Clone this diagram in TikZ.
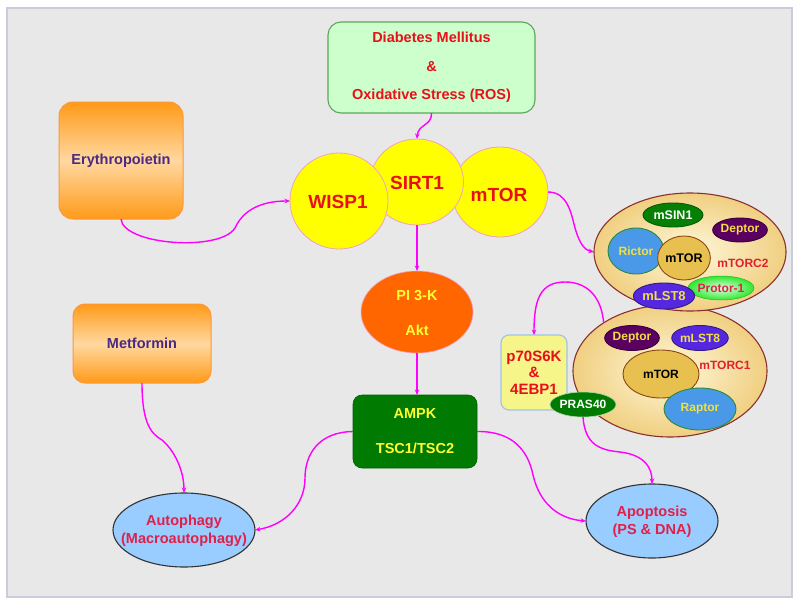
\documentclass[tikz,border=0pt]{standalone}
\usepackage{fontspec}
\setmainfont{Liberation Sans}
\usetikzlibrary{shapes.geometric,arrows.meta}
\definecolor{bg}{HTML}{E8E8E8}
\definecolor{frame}{HTML}{C8CCDC}
\definecolor{mag}{HTML}{FF00FF}
\definecolor{yel}{HTML}{FFFF00}
\definecolor{pinkb}{HTML}{F0A0C8}
\definecolor{redt}{HTML}{E8101A}
\definecolor{redd}{HTML}{E0202E}
\definecolor{crim}{HTML}{E0204A}
\definecolor{purt}{HTML}{4A2A80}
\definecolor{yelt}{HTML}{FFFF33}
\definecolor{lgreen}{HTML}{CCFFCC}
\definecolor{gborder}{HTML}{5BA85B}
\definecolor{orangeA}{HTML}{FF9A18}
\definecolor{orangeB}{HTML}{FFD8A0}
\definecolor{orangeE}{HTML}{FF9838}
\definecolor{pik}{HTML}{FF6600}
\definecolor{dgreen}{HTML}{007A00}
\definecolor{lblue}{HTML}{99CCFF}
\definecolor{dgray}{HTML}{333333}
\definecolor{p70fill}{HTML}{F5F58A}
\definecolor{p70bord}{HTML}{A0C4E8}
\definecolor{beigeA}{HTML}{FFF8DC}
\definecolor{beigeB}{HTML}{F0CF80}
\definecolor{brown}{HTML}{8B3030}
\definecolor{deptor}{HTML}{5A0060}
\definecolor{mlst}{HTML}{5528E0}
\definecolor{msin}{HTML}{058005}
\definecolor{rblue}{HTML}{4A98E8}
\definecolor{rbord}{HTML}{2A8A3A}
\definecolor{gold}{HTML}{E8C050}
\definecolor{brownb}{HTML}{8B4513}
\definecolor{protA}{HTML}{E0FFE0}
\definecolor{protB}{HTML}{30E830}
\definecolor{smallyel}{HTML}{F0E040}
\newcommand\fsz[2]{\fontsize{#1}{#2}\selectfont\bfseries}
\begin{document}
\begin{tikzpicture}[x=1pt,y=-1pt,
  every node/.style={inner sep=0pt, outer sep=0pt},
  conn/.style={draw=mag, line width=1.4pt, -{Stealth[length=5.5pt,width=4.5pt]}},
  yc/.style={ellipse, fill=yel, draw=pinkb, line width=0.8pt},
  obox/.style={rectangle, rounded corners=14pt, draw=orangeE, line width=1pt,
     top color=orangeA, bottom color=orangeA, middle color=orangeB},
  bell/.style={ellipse, fill=lblue, draw=dgray, line width=1.1pt},
  cplx/.style={ellipse, shading=radial, inner color=beigeA, outer color=beigeB, draw=brown, line width=1.1pt},
  sm/.style={ellipse, line width=0.9pt},
]
\useasboundingbox (0,0) rectangle (800,605);
\fill[white] (0,0) rectangle (800,605);
\draw[fill=bg, draw=frame, line width=2pt] (7,8) rectangle (792,597);

% top box
\node[rectangle, rounded corners=13pt, fill=lgreen, draw=gborder, line width=1.1pt,
  minimum width=207pt, minimum height=91pt, align=center, text=redt,
  font=\fsz{14.5}{28.5}] (dm) at (431.5,67.5)
  {Diabetes Mellitus\\\&\\Oxidative Stress (ROS)};

% circles
\node[yc, minimum width=96pt, minimum height=90pt] (mtor) at (500,192) {};
\node[yc, minimum width=93pt, minimum height=86pt] (sirt) at (417,182) {};
\node[yc, minimum width=98pt, minimum height=96pt] (wisp) at (339,201) {};
\node[text=redt, font=\fsz{19}{22}] (wispt) at (338,202) {WISP1};
\node[text=redt, font=\fsz{19}{22}] (sirtt) at (417,183) {SIRT1};
\node[text=redt, font=\fsz{19}{22}] (mtort) at (499,195) {mTOR};

% left boxes
\node[obox, minimum width=124pt, minimum height=117pt, text=purt, font=\fsz{14.5}{18}] (ery) at (121,160.5) {Erythropoietin};
\node[obox, rounded corners=12pt, minimum width=138pt, minimum height=79pt, text=purt, font=\fsz{14.5}{18}] (met) at (142,343.5) {Metformin};

% PI3K
\node[ellipse, fill=pik, draw=pinkb, line width=0.6pt, minimum width=112pt, minimum height=82pt] (pi3k) at (417,312) {};
\node[align=center, text=yelt, font=\fsz{14.5}{35}] (pi3kt) at (417,313) {PI 3-K\\Akt};

% AMPK
\node[rectangle, rounded corners=9pt, fill=dgreen, draw=dgreen!80!black, line width=0.6pt,
  minimum width=124pt, minimum height=73pt, align=center, text=yelt, font=\fsz{14.5}{35}] (ampk) at (415,431.5)
  {AMPK\\TSC1/TSC2};

% bottom ellipses
\node[bell, minimum width=142pt, minimum height=74pt] (auto) at (184,530) {};
\node[align=center, text=crim, font=\fsz{14.5}{18}] (autot) at (184,531) {Autophagy\\(Macroautophagy)};
\node[bell, minimum width=132pt, minimum height=74pt] (apop) at (652,521) {};
\node[align=center, text=crim, font=\fsz{14.5}{18}] (apopt) at (652,522) {Apoptosis\\(PS \& DNA)};

% mTORC1
\node[cplx, minimum width=194pt, minimum height=132pt] (mtorc1) at (670,371) {};
% mTORC2
\node[cplx, minimum width=192pt, minimum height=118pt] (mtorc2) at (690,252) {};

% mTORC2 contents
\node[sm, fill=msin, draw=msin!70!black, minimum width=60pt, minimum height=24pt, text=white, font=\fsz{12.5}{14}] (msin) at (673,215) {mSIN1};
\node[sm, fill=deptor, draw=deptor!60!black, minimum width=54pt, minimum height=24pt, text=smallyel, font=\fsz{12}{14}] (dep2) at (740,230) {Deptor};
\node[sm, fill=rblue, draw=rbord, minimum width=56pt, minimum height=46pt, text=smallyel, font=\fsz{12}{14}] (rictor) at (636,251) {Rictor};
\node[sm, fill=gold, draw=brownb, minimum width=48pt, minimum height=44pt, text=black, font=\fsz{12.5}{14}] (mtor2) at (684,258) {mTOR};
\node[text=redd, font=\fsz{12}{14}] (mtorc2t) at (743,263) {mTORC2};
\node[sm, shading=radial, inner color=protA, outer color=protB, draw=protB!80!black, line width=0.5pt, minimum width=56pt, minimum height=24pt, text=crim, font=\fsz{12}{14}] (protor) at (721,288) {Protor-1};
\node[sm, fill=mlst, draw=mlst!60!black, minimum width=56pt, minimum height=26pt, text=smallyel, font=\fsz{13}{14}] (mlst2) at (664,296) {mLST8};

% mTORC1 contents
\node[sm, fill=deptor, draw=deptor!60!black, minimum width=54pt, minimum height=25pt, text=smallyel, font=\fsz{12}{14}] (dep1) at (632,338) {Deptor};
\node[sm, fill=mlst, draw=mlst!60!black, minimum width=52pt, minimum height=25pt, text=smallyel, font=\fsz{12}{14}] (mlst1) at (700,338) {mLST8};
\node[sm, fill=gold, draw=brownb, minimum width=76pt, minimum height=48pt, text=black, font=\fsz{12}{14}] (mtor1) at (661,374) {mTOR};
\node[text=redd, font=\fsz{12}{14}] (mtorc1t) at (725,365) {mTORC1};
\node[sm, fill=rblue, draw=rbord, minimum width=72pt, minimum height=42pt, text=smallyel, font=\fsz{12}{14}] (raptor) at (700,409) {Raptor};

% p70S6K box
\node[rectangle, rounded corners=8pt, fill=p70fill, draw=p70bord, line width=1.2pt,
  minimum width=66pt, minimum height=75pt, align=center, text=redt, font=\fsz{15}{16.5}] (p70) at (534,372.5)
  {p70S6K\\\&\\4EBP1};
\node[sm, fill=dgreen, draw=white!70!dgreen, line width=0.6pt, minimum width=60pt, minimum height=25pt, text=white, font=\fsz{12}{14}] (pras) at (583,404.5) {PRAS40};

% connectors
\draw[conn] (dm.south) .. controls (432,126) and (418,124) .. (sirt.north);
\draw[conn] (ery.south) .. controls (123,245) and (220,252) .. (235,228)
   .. controls (245,206) and (268,201) .. (wisp.west);
\draw[conn] (mtor.east) .. controls (567,192) and (571,212) .. (575,228)
   .. controls (580,245) and (585,250) .. (mtorc2.west);
\draw[conn] (sirt.south) -- (pi3k.north);
\draw[conn] (pi3k.south) -- (pi3k.south |- ampk.north);
\draw[conn] (ampk.west) .. controls (318,432) and (305,455) .. (305,478)
   .. controls (305,505) and (285,525) .. (auto.east);
\draw[conn] (ampk.east) .. controls (512,431) and (528,450) .. (533,475)
   .. controls (540,505) and (560,519) .. (apop.west);
\draw[conn] (met.south) .. controls (142,425) and (152,434) .. (162,440)
   .. controls (174,450) and (184,470) .. (auto.north);
\draw[conn] (pras.south) .. controls (585,445) and (600,450) .. (620,452)
   .. controls (645,455) and (652,468) .. (apop.north);
\draw[conn] (mtorc1.144) .. controls (600,285) and (575,282) .. (565,282)
   .. controls (540,282) and (534,300) .. (p70.north);
\end{tikzpicture}
\end{document}
